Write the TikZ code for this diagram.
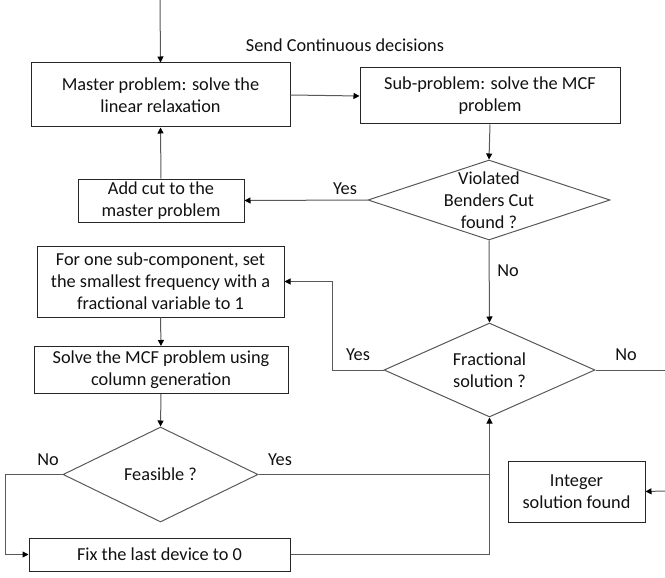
\documentclass[tikz,border=0pt]{standalone}
\usepackage{fontspec}
\setmainfont{Carlito}
\usetikzlibrary{shapes.geometric,arrows.meta}
\definecolor{boxc}{HTML}{262626}
\definecolor{linec}{HTML}{595959}
\definecolor{txtc}{HTML}{111111}
\tikzset{
  box/.style={draw=boxc,line width=1pt,rectangle,inner sep=0pt,align=center,text=txtc,font=\fontsize{18.3}{22}\selectfont},
  dia/.style={draw=linec,line width=1pt,diamond,inner sep=0pt},
  txt/.style={align=center,text=txtc,font=\fontsize{18.3}{22}\selectfont,inner sep=0pt},
  lbl/.style={text=txtc,font=\fontsize{18.3}{22}\selectfont,inner sep=0pt},
  conn/.style={draw=linec,line width=1pt},
  arr/.style={conn,-{Triangle[width=6pt,length=6pt,color=black]}}
}
\begin{document}
\begin{tikzpicture}[x=1pt,y=-1pt]
\useasboundingbox (0,0) rectangle (665,578);
% boxes
\node[box,minimum width=259,minimum height=64] (master) at (160.5,95) {Master problem: solve the\\linear relaxation};
\node[box,minimum width=260,minimum height=56] (sub) at (490,96) {Sub-problem: solve the MCF\\problem};
\node[box,minimum width=166,minimum height=43] (cut) at (161,200.5) {Add cut to the\\master problem};
\node[box,minimum width=247,minimum height=71] (one) at (160.5,281.5) {For one sub-component, set\\the smallest frequency with a\\fractional variable to 1};
\node[box,minimum width=254,minimum height=47] (mcf) at (161,370) {Solve the MCF problem using\\column generation};
\node[box,minimum width=261,minimum height=33] (fix) at (159.5,554.5) {Fix the last device to 0};
\node[box,minimum width=137,minimum height=61] (int) at (576.5,491.5) {Integer\\solution found};
% diamonds
\node[dia,minimum width=242,minimum height=80] (viol) at (489,200) {};
\node[txt] at (viol) {Violated\\Benders Cut\\found ?};
\node[dia,minimum width=211,minimum height=94] (frac) at (489.5,370) {};
\node[txt] at (frac) {Fractional\\solution ?};
\node[dia,minimum width=195,minimum height=95] (feas) at (160.5,474.5) {};
\node[txt] at (feas) {Feasible ?};
% coordinates
\coordinate (start) at (160,0);
\coordinate (eA) at (665,370);
\coordinate (eB) at (665,491);
% labels
\node[lbl] (send) at (345,45) {Send Continuous decisions};
\node[lbl] (y1) at (345,189) {Yes};
\node[lbl] (n1) at (508,271) {No};
\node[lbl] (y2) at (358,355) {Yes};
\node[lbl] (n2) at (626,355) {No};
\node[lbl] (n3) at (48,460) {No};
\node[lbl] (y3) at (280,460) {Yes};
% connectors
\draw[arr] (start) -- (master.north);
\draw[arr] (master.east) -- (sub.west);
\draw[arr] (sub.south) -- (viol.north);
\draw[arr] (viol.west) -- (cut.east);
\draw[arr] (cut.north) -- (master.south);
\draw[arr] (viol.south) -- (frac.north);
\draw[arr] (frac.west) -- ++(-51,0) |- (one.east);
\draw[conn] (frac.east) -- (eA);
\draw[arr] (eB) -- (int.east);
\draw[arr] (one.south) -- (mcf.north);
\draw[arr] (mcf.south) -- (feas.north);
\draw[arr] (feas.west) -- (5,474.5) |- (fix.west);
\draw[arr] (fix.east) -| (frac.south);
\draw[conn] (feas.east) -- (frac.south |- feas.east);
\end{tikzpicture}
\end{document}
